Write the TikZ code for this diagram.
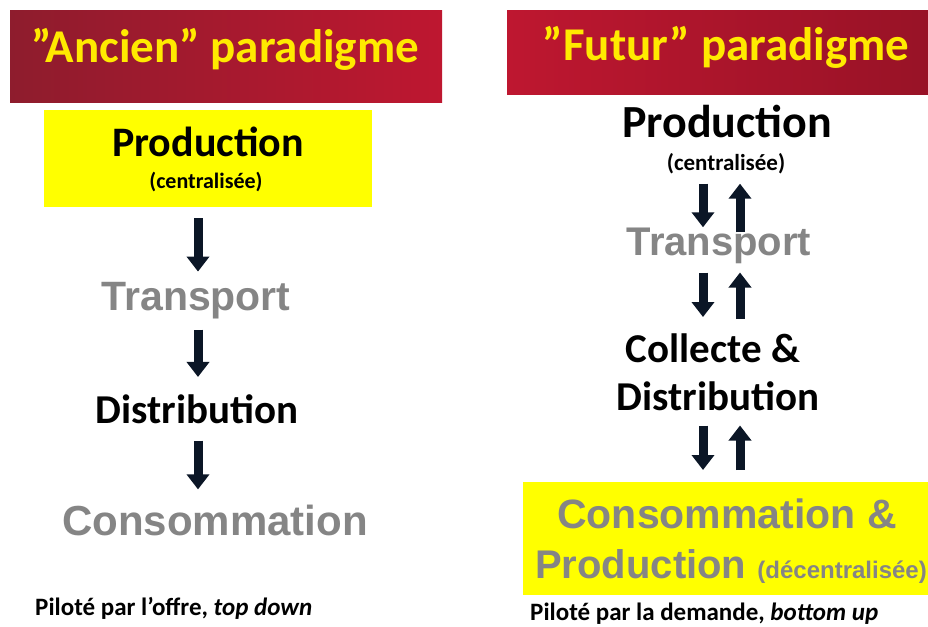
\documentclass[tikz,border=0pt]{standalone}
\usepackage{fontspec}
\setmainfont{Carlito}
\newfontfamily\arialfont{Liberation Sans}
\usetikzlibrary{arrows.meta}

\definecolor{bannerred}{HTML}{BE1730}
\definecolor{bannerdark}{HTML}{8E1C2D}
\definecolor{titleyellow}{HTML}{FFEA00}
\definecolor{boxyellow}{HTML}{FFFF00}
\definecolor{stepgrey}{HTML}{858585}
\definecolor{arrowblue}{HTML}{0B1626}

\tikzset{
  banner/.style={rectangle, inner sep=0pt, anchor=north west},
  titletxt/.style={inner sep=0pt, anchor=base, text=titleyellow,
    font=\fontsize{47}{56}\selectfont\bfseries},
  ybox/.style={rectangle, fill=boxyellow, inner sep=0pt},
  darktxt/.style={inner sep=0pt, anchor=base, text=black,
    font=\fontsize{#1}{#1}\selectfont\bfseries},
  greytxt/.style={inner sep=0pt, anchor=base, text=stepgrey,
    font=\fontsize{#1}{#1}\selectfont\arialfont\bfseries},
  flow/.style={line width=9pt, arrowblue, -{Triangle[width=22pt,length=15pt]}},
}

\begin{document}
\begin{tikzpicture}[x=1pt, y=-1pt]
    \useasboundingbox (0,0) rectangle (928,626);

    % left column
    \node[banner,
    minimum width=432pt,
    minimum height=92pt,
    left color=bannerdark, right color=bannerred] (banL) at (10,10) {};
    \node[titletxt] (ttlL) at (225,63) {”Ancien” paradigme};

    \node[ybox,
    minimum width=328pt,
    minimum height=97pt] (boxL) at (208,158.5) {};
    \node[darktxt=42] (prodL) at (208,156) {Production};
    \node[darktxt=22] (centL) at (206,188) {(centralisée)};

    \node[greytxt=41] (transL) at (196,310) {Transport};
    \node[darktxt=41] (distL) at (197,423) {Distribution};
    \node[greytxt=42] (consL) at (215,535) {Consommation};

    \node[darktxt=25, anchor=base west] (pilL) at (35,615)
      {Piloté par l’offre, \textit{top down}};

    \coordinate (axL) at (198,0);
    \draw[flow, shorten <=11pt, shorten >=10pt] (boxL.south -| axL)--(transL.north -| axL);
    \draw[flow, shorten <=11pt, shorten >=17pt] (transL.south -| axL)--(distL.north -| axL);
    \draw[flow, shorten <=17pt, shorten >=15pt] (distL.south -| axL)--(consL.north -| axL);

    % right column
    \node[banner,
    minimum width=421pt,
    minimum height=84pt,
    left color=bannerred, right color=bannerred!80!black] (banR) at (507,10) {};
    \node[titletxt] (ttlR) at (726,60) {”Futur” paradigme};

    \node[darktxt=46] (prodR) at (727,137) {Production};
    \node[darktxt=23] (centR) at (726,170) {(centralisée)};
    \node[greytxt=40] (transR) at (719,255) {Transport};
    \node[darktxt=41] (collR) at (713,362) {Collecte \&};
    \node[darktxt=41] (distR) at (718,410) {Distribution};

    \node[ybox, anchor=north west,
    minimum width=405pt,
    minimum height=113pt] (boxR) at (523,482) {};
    \node[greytxt=41] (consR) at (727,528) {Consommation \&};
    \node[greytxt=40] (prodRb) at (731,578)
      {Production {\fontsize{24}{24}\selectfont(décentralisée)}};

    \node[darktxt=25, anchor=base west] (pilR) at (530,620)
      {Piloté par la demande, \textit{bottom up}};

    \coordinate (dnR) at (703,0);
    \coordinate (upR) at (740,0);
    \draw[flow, shorten <=10pt, shorten >=0pt] (centR.south -| dnR)--(transR.north -| dnR);
    \draw[flow, shorten <=-5pt, shorten >=10pt] (transR.north -| upR)--(centR.south -| upR);
    \draw[flow, shorten <=9pt, shorten >=16pt] (transR.south -| dnR)--(collR.north -| dnR);
    \draw[flow, shorten <=14pt, shorten >=9pt] (collR.north -| upR)--(transR.south -| upR);
    \draw[flow, shorten <=15pt, shorten >=12pt] (distR.south -| dnR)--(boxR.north -| dnR);
    \draw[flow, shorten <=12pt, shorten >=15pt] (boxR.north -| upR)--(distR.south -| upR);
\end{tikzpicture}
\end{document}
